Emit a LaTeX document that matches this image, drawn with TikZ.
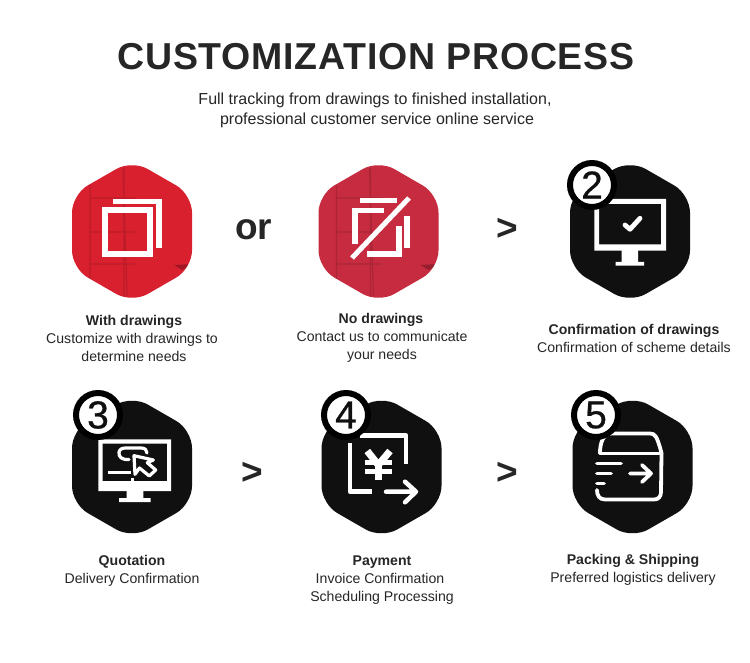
\documentclass[tikz,border=0pt]{standalone}
\usepackage{fontspec}
\setmainfont{Liberation Sans}
\newfontfamily\numfont[FakeBold=0.6]{Liberation Sans}
\definecolor{redA}{HTML}{D9202F}
\definecolor{redB}{HTML}{C62B40}
\definecolor{inkD}{HTML}{101010}
\definecolor{txt}{HTML}{262626}
\newcommand{\fs}[1]{\fontsize{#1}{#1}\selectfont}
\newcommand{\hexshape}[2]{% centre x, y
  (#1,#2-71.5) -- (#1+60,#2-37) -- (#1+60,#2+37) -- (#1,#2+71.5) -- (#1-60,#2+37) -- (#1-60,#2-37) -- cycle}
\tikzset{
  hexa/.style={rounded corners=18pt},
  ico/.style={draw=white,line width=#1},
  ico/.default=4pt,
  rico/.style={draw=white,line width=#1,line cap=round,line join=round},
  rico/.default=3.8pt,
  title/.style={font=\fs{37.5}\bfseries\addfontfeature{LetterSpace=2},text=txt,inner sep=0pt},
  sub/.style={font=\fs{16},text=txt,inner sep=0pt,align=center},
  lab/.style={font=\fs{14.1},text=txt,inner sep=0pt,align=center,text height=10.3pt,text depth=3pt},
  labb/.style={lab,font=\fs{14.1}\bfseries},
  sep/.style={font=\fs{37}\bfseries,text=txt,inner sep=0pt},
  badge/.style={circle,draw=black,line width=6pt,fill=white,minimum size=44pt,inner sep=0pt,font=\fs{39}\numfont,text=inkD},
  tex/.style={line width=1.2pt,opacity=.13,draw=black}
}
\begin{document}
\begin{tikzpicture}[x=1pt,y=-1pt]
\useasboundingbox (0,0) rectangle (750,663);
\fill[white] (0,0) rectangle (750,663);

% text
\node[title] (t) at (376,57) {CUSTOMIZATION PROCESS};
\node[sub] (s1) at (375,100) {Full tracking from drawings to finished installation,};
\node[sub] (s2) at (377,120) {professional customer service online service};

% hexagons
\fill[redA,hexa] \hexshape{132}{231.5};
\fill[redB,hexa] \hexshape{378.5}{231.5};
\fill[inkD,hexa] \hexshape{630}{231.5};
\fill[inkD,hexa] \hexshape{132}{467};
\fill[inkD,hexa] \hexshape{381.5}{467};
\fill[inkD,hexa] \hexshape{632.5}{467};

% ladder-like reflections in the red tiles
\foreach \ox in {0,246.5}{
  \begin{scope}[xshift=\ox pt]
    \clip[hexa] \hexshape{132}{231.5};
    \draw[tex] (90,185)--(90,296) (124,168)--(124,296) (123,168)--(127,296) (90,198)--(135,198) (90,232)--(135,232) (90,264)--(135,264);
    \fill[black,opacity=.25] (174,265)--(192,264)--(182,270)--cycle;
  \end{scope}
}

% icon 1
\draw[ico=6pt] (105,210.3) rectangle (149.7,254.3);
\draw[ico=5.5pt] (112.5,201.5) -- (159,201.5) -- (159,248);

% icon 2
\draw[ico=5.5pt] (360,200.5) -- (397,200.5);
\draw[ico=5.5pt] (407,216) -- (407,248);
\draw[ico=5.5pt] (384,210.5) -- (355,210.5) -- (355,244);
\draw[ico=5.5pt] (367,254) -- (399,254) -- (399,226);
\draw[ico=5pt] (352,258) -- (409,198);

% icon 3 monitor with check
\fill[white,even odd rule] (594.3,199) rectangle (666,250.7) (599,204) rectangle (661,244.5);
\fill[white] (621.7,250) rectangle (638,262) (615.7,262) rectangle (644,265.7);
\draw[rico=4.8pt] (625,225) -- (630,229.3) -- (640,218.3);

% icon 4 monitor with cursor
\fill[white,even odd rule] (98.3,439.3) rectangle (171,491) (102.5,443.5) rectangle (167,481);
\fill[white] (126.7,491) rectangle (143.3,498) (119,498) rectangle (150.7,502);
\fill[white] (131.2,477.5) rectangle (134.2,481);
\draw[rico=2.8pt,line cap=butt] (107.7,472.7) -- (130.7,472.7);
\draw[rico=3.2pt] (129,459.5) .. controls (122,460) and (118.5,457) .. (119,452.5) .. controls (119.5,449) and (122,448) .. (126,448) -- (141,448) .. controls (145,448) and (147,450) .. (147,453);
\draw[rico=3.2pt,fill=inkD] (134,455.7) -- (135,474.3) -- (139.5,468) -- (149.3,476) -- (155.7,470) -- (147.3,462.7) -- (153.3,460) -- cycle;

% icon 5 frame, yen, arrow
\draw[rico=4.5pt,line cap=butt] (350,443) -- (350,491.7) -- (372,491.7);
\draw[rico=4.5pt,line cap=butt] (360,435.5) -- (406,435.5) -- (406,464);
\draw[ico=7pt] (367.3,451) -- (378.3,465) -- (390,451);
\draw[ico=7pt] (378.3,464) -- (378.3,480);
\draw[ico=5pt] (364.5,462.3) -- (392,462.3);
\draw[ico=5pt] (364.5,471.2) -- (392,471.2);
\draw[rico=4.5pt] (386,491.7) -- (415,491.7) (405,481.7) -- (416,491.7) -- (405,502.3);

% icon 6 parcel
\draw[rico] (600,453) .. controls (600,443) and (603,433.5) .. (612,433.5) -- (650,433.5) .. controls (655,433.5) and (657,436) .. (661.5,453);
\draw[rico] (600,453.5) -- (661.5,453.5);
\draw[rico] (661.5,453.5) -- (661,492) .. controls (661,497) and (658,499.5) .. (654,499.5) -- (605,499.5) .. controls (599,499.5) and (597,495) .. (597,490);
\draw[rico] (597,463.5) -- (621,463.5) (597,473.5) -- (611,473.5) (597,483.5) -- (604,483.5);
\draw[rico] (630,473.5) -- (650,473.5) (642,465) -- (651,473.5) -- (642,482);

% badges
\node[badge] (b2) at (592,185) {2};
\node[badge] (b3) at (98,415) {3};
\node[badge] (b4) at (346,415) {4};
\node[badge] (b5) at (596,415) {5};

% separators
\node[sep] (or) at (253.5,230) {or};
\node[sep] (g1) at (507,229.5) {>};
\node[sep] (g2) at (252,473.5) {>};
\node[sep] (g3) at (507,473.5) {>};

% captions
\node[labb] (a1) at (134,322) {With drawings};
\node[lab]  (a2) at (132,340) {Customize with drawings to};
\node[lab]  (a3) at (134,358) {determine needs};
\node[labb] (c1) at (381,320) {No drawings};
\node[lab]  (c2) at (382,338) {Contact us to communicate};
\node[lab]  (c3) at (382,356) {your needs};
\node[labb] (d1) at (634,331) {Confirmation of drawings};
\node[lab]  (d2) at (634,349) {Confirmation of scheme details};
\node[labb] (e1) at (132,562) {Quotation};
\node[lab]  (e2) at (132,580) {Delivery Confirmation};
\node[labb] (f1) at (382,562) {Payment};
\node[lab]  (f2) at (380,580) {Invoice Confirmation};
\node[lab]  (f3) at (382,598) {Scheduling Processing};
\node[labb] (h1) at (633,561) {Packing \& Shipping};
\node[lab]  (h2) at (633,579) {Preferred logistics delivery};
\end{tikzpicture}
\end{document}
